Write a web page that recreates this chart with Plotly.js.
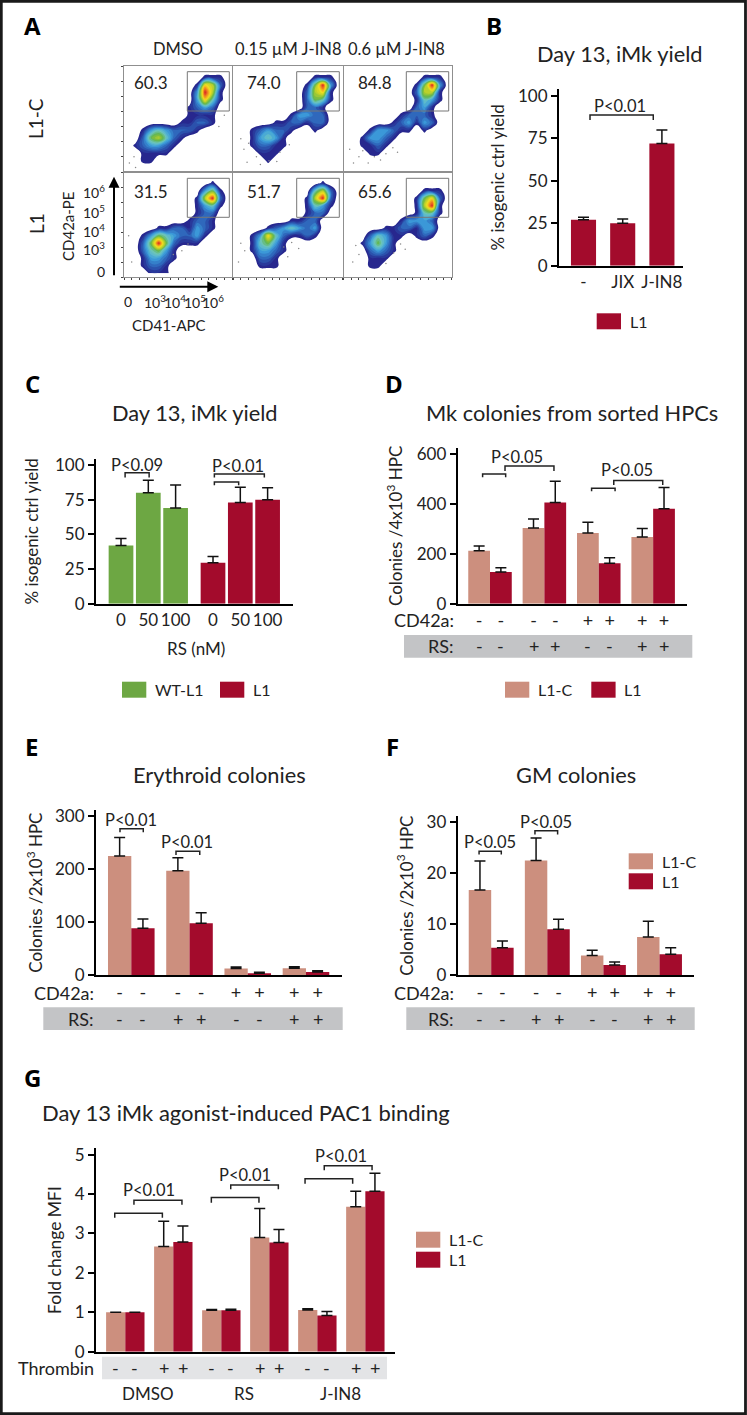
<!DOCTYPE html>
<html><head><meta charset="utf-8">
<script src="https://cdn.plot.ly/plotly-3.0.1.min.js"></script>
<style>html,body{margin:0;padding:0;background:#fff}#chart{width:747px;height:1415px}</style>
</head><body><div id="chart"></div>
<script>
// ---------- Panel A: density grids (0 = empty, 9 = densest), rows top to bottom
const densL1cDmso=[
[0,0,0,0,0,0,0,0,0,0,0,0,0,0],
[0,0,0,0,0,0,0,0,0,0,1,1,1,0],
[0,0,0,0,0,0,0,0,0,1,7,6,2,0],
[0,0,0,0,0,0,0,0,0,3,9,6,1,0],
[0,0,0,0,0,0,0,0,0,3,7,4,1,0],
[0,0,0,0,0,0,0,0,1,2,3,2,0,0],
[0,0,0,0,0,0,0,0,1,1,1,1,0,0],
[0,0,0,0,0,0,0,1,1,2,2,1,0,0],
[0,0,1,3,4,3,2,2,2,1,0,0,0,0],
[0,0,2,5,6,4,2,1,0,0,0,0,0,0],
[0,1,2,3,3,2,1,0,0,0,0,0,0,0],
[0,0,1,1,1,1,0,0,0,0,0,0,0,0],
[0,0,1,1,0,0,0,0,0,0,0,0,0,0],
[0,0,0,0,0,0,0,0,0,0,0,0,0,0]];
const densL1cLow=[
[0,0,0,0,0,0,0,0,0,0,0,0,0,0],
[0,0,0,0,0,0,0,0,0,0,1,1,1,0],
[0,0,0,0,0,0,0,0,0,1,5,9,3,0],
[0,0,0,0,0,0,0,0,0,2,6,7,1,0],
[0,0,0,0,0,0,0,0,0,2,5,4,1,0],
[0,0,0,0,0,0,0,0,0,2,2,1,0,0],
[0,0,0,0,0,0,0,1,3,3,2,2,0,0],
[0,0,0,0,0,1,1,2,2,1,2,2,0,0],
[0,0,1,2,3,2,2,1,0,0,1,0,0,0],
[0,0,1,3,4,3,1,0,0,0,0,0,0,0],
[0,0,1,2,2,1,1,0,0,0,0,0,0,0],
[0,0,0,1,1,1,0,0,0,0,0,0,0,0],
[0,0,0,0,1,0,0,0,0,0,0,0,0,0],
[0,0,0,0,0,0,0,0,0,0,0,0,0,0]];
const densL1cHigh=[
[0,0,0,0,0,0,0,0,0,0,0,0,0,0],
[0,0,0,0,0,0,0,0,0,0,1,1,1,0],
[0,0,0,0,0,0,0,0,0,1,5,9,3,0],
[0,0,0,0,0,0,0,0,0,2,6,6,1,0],
[0,0,0,0,0,0,0,0,0,1,4,3,1,0],
[0,0,0,0,0,0,0,0,0,2,3,1,0,0],
[0,0,0,0,0,0,0,1,2,2,2,1,0,0],
[0,0,0,0,0,0,1,2,3,1,3,2,0,0],
[0,0,0,1,3,3,2,1,1,0,1,0,0,0],
[0,0,1,3,3,2,1,0,0,0,0,0,0,0],
[0,0,1,1,2,1,0,0,0,0,0,0,0,0],
[0,0,0,1,1,0,0,0,0,0,0,0,0,0],
[0,0,0,0,0,0,0,0,0,0,0,0,0,0],
[0,0,0,0,0,0,0,0,0,0,0,0,0,0]];
const densL1Dmso=[
[0,0,0,0,0,0,0,0,0,0,0,0,0,0],
[0,0,0,0,0,0,0,0,0,0,0,1,0,0],
[0,0,0,0,0,0,0,0,0,0,3,5,1,0],
[0,0,0,0,0,0,0,0,0,1,6,9,2,0],
[0,0,0,0,0,0,0,0,0,1,3,4,1,0],
[0,0,0,0,0,0,0,0,0,1,2,2,0,0],
[0,0,0,0,0,0,0,0,1,2,2,1,0,0],
[0,0,0,0,1,1,2,2,1,3,2,1,0,0],
[0,0,1,3,5,4,3,2,2,3,1,0,0,0],
[0,0,2,5,9,5,2,1,1,1,0,0,0,0],
[0,0,2,4,5,3,1,0,0,0,0,0,0,0],
[0,0,1,3,3,2,1,0,0,0,0,0,0,0],
[0,0,1,2,2,1,0,0,0,0,0,0,0,0],
[0,0,0,1,1,1,0,0,0,0,0,0,0,0]];
const densL1Low=[
[0,0,0,0,0,0,0,0,0,0,0,0,0,0],
[0,0,0,0,0,0,0,0,0,0,0,1,0,0],
[0,0,0,0,0,0,0,0,0,0,4,6,2,0],
[0,0,0,0,0,0,0,0,0,1,6,9,2,0],
[0,0,0,0,0,0,0,0,0,1,4,3,1,0],
[0,0,0,0,0,0,0,0,0,1,2,2,0,0],
[0,0,0,0,0,0,0,1,1,2,2,0,0,0],
[0,0,0,0,1,2,3,4,3,2,3,0,0,0],
[0,0,1,3,7,4,2,1,1,2,1,0,0,0],
[0,0,1,4,5,3,1,0,0,0,0,0,0,0],
[0,0,1,3,3,2,1,0,0,0,0,0,0,0],
[0,0,0,2,2,1,0,0,0,0,0,0,0,0],
[0,0,0,1,1,1,0,0,0,0,0,0,0,0],
[0,0,0,0,0,0,0,0,0,0,0,0,0,0]];
const densL1High=[
[0,0,0,0,0,0,0,0,0,0,0,0,0,0],
[0,0,0,0,0,0,0,0,0,0,0,0,0,0],
[0,0,0,0,0,0,0,0,0,0,1,1,1,0],
[0,0,0,0,0,0,0,0,0,1,5,7,2,0],
[0,0,0,0,0,0,0,0,0,1,6,9,1,0],
[0,0,0,0,0,0,0,0,0,1,4,4,1,0],
[0,0,0,0,0,0,0,1,3,3,3,2,0,0],
[0,0,0,0,0,1,1,2,2,1,3,3,0,0],
[0,0,0,2,4,3,1,1,0,1,2,1,0,0],
[0,0,1,3,5,3,1,0,0,0,0,0,0,0],
[0,0,0,2,3,2,1,0,0,0,0,0,0,0],
[0,0,0,1,1,1,0,0,0,0,0,0,0,0],
[0,0,0,1,1,0,0,0,0,0,0,0,0,0],
[0,0,0,0,0,0,0,0,0,0,0,0,0,0]];
const panelPercents=['60.3','74.0','84.8','31.5','51.7','65.6'];
const columnHeads=['DMSO','0.15 µM J-IN8','0.6 µM J-IN8'];
const rowHeads=['L1-C','L1'];
const flowYTicks=['10<sup>6</sup>','10<sup>5</sup>','10<sup>4</sup>','10<sup>3</sup>','0'];
const flowXTicks=['0','10<sup>3</sup>','10<sup>4</sup>','10<sup>5</sup>','10<sup>6</sup>'];

// ---------- Panel B
const bLabels=['-','JIX','J-IN8'];
const bL1=[27,25,72];
const bL1Err=[1.5,2.5,8];
// ---------- Panel C
const cLabels=['0','50','100'];
const cWt=[42,80,69];
const cWtErr=[5,9,16.5];
const cL1=[29.5,73,75];
const cL1Err=[4.5,11,8.5];
// ---------- Panels D/E/F shared row labels
const cd42aRow=['-','-','-','-','+','+','+','+'];
const rsRow=['-','-','+','+','-','-','+','+'];
// ---------- Panel D
const dCtrl=[212,303,283,267];
const dCtrlErr=[19,36,43,34];
const dL1=[127,406,162,381];
const dL1Err=[17,85,22,85];
// ---------- Panel E
const eCtrl=[225,197.5,12.6,13.2];
const eCtrlErr=[35,24.5,3.1,3.1];
const eL1=[89,98,3.8,6.3];
const eL1Err=[17,20,1.9,2.5];
// ---------- Panel F
const fCtrl=[16.7,22.5,3.9,7.5];
const fCtrlErr=[5.7,4.4,1,3.1];
const fL1=[5.4,9,2,4.1];
const fL1Err=[1.3,2,.6,1.3];
// ---------- Panel G
const gCtrl=[1,2.67,1.05,2.9,1.06,3.68];
const gCtrlErr=[0,.64,.02,.73,.03,.39];
const gL1=[1,2.78,1.05,2.77,.92,4.07];
const gL1Err=[0,.41,.03,.33,.1,.46];
const thrombinRow=['-','-','+','+','-','-','+','+','-','-','+','+'];
const gGroups=['DMSO','RS','J-IN8'];

// ---------- helpers
const W=747,H=1415;
const FONT='Lato, "Open Sans", sans-serif';
const TXT='#222', C_L1='#a30b2c', C_CTRL='#cc8f7e', C_WT='#6da743';
const X=p=>p/W, Y=p=>1-p/H;
const traces=[], shapes=[], annotations=[], layout={};
const ax=i=>i===1?'':String(i);

function note(text,x,y,o){annotations.push(Object.assign({text,x:X(x),y:Y(y),xref:'paper',yref:'paper',showarrow:false,xanchor:'center',yanchor:'middle',font:{family:FONT,size:18,color:TXT}},o||{}));}
function rect(x0,y0,x1,y1,fill,layer){shapes.push({type:'rect',xref:'paper',yref:'paper',x0:X(x0),x1:X(x1),y0:Y(y0),y1:Y(y1),fillcolor:fill,line:{width:0},layer:layer||'below'});}
function swatch(x0,y0,color,label){rect(x0,y0,x0+24.3,y0+16,color);note(label,x0+31,y0+8,{xanchor:'left',font:{family:FONT,size:16,color:TXT}});}

function barAxes(i,box,xr,yr,ticks,opts){
  layout['xaxis'+ax(i)]=Object.assign({domain:[X(box.l),X(box.r)],range:xr,anchor:'y'+ax(i),showgrid:false,zeroline:false,showline:true,linecolor:'#000',linewidth:2,ticks:'',fixedrange:true,tickfont:{family:FONT,size:17,color:TXT}},opts.x||{});
  layout['yaxis'+ax(i)]=Object.assign({domain:[Y(box.b),Y(box.t)],range:yr,anchor:'x'+ax(i),showgrid:false,zeroline:false,showline:true,linecolor:'#000',linewidth:2,ticks:'outside',ticklen:6,tickwidth:2,tickcolor:'#000',tickmode:'array',tickvals:ticks,ticktext:ticks.map(String),fixedrange:true,tickfont:{family:FONT,size:17,color:TXT}},opts.y||{});
}
function bars(i,x,y,err,color,name,width){
  traces.push({type:'bar',name,x,y,width,xaxis:'x'+ax(i),yaxis:'y'+ax(i),marker:{color,line:{width:0}},showlegend:false,hoverinfo:'x+y',
    error_y:{type:'data',symmetric:false,array:err,arrayminus:err.map(()=>0),color:'#111',thickness:1.5,width:5.5}});
}
function bracket(i,x0,x1,top,endL,endR){
  traces.push({type:'scatter',mode:'lines',x:[x0,x0,x1,x1],y:[endL,top,top,endR],xaxis:'x'+ax(i),yaxis:'y'+ax(i),line:{color:'#222',width:1.5},showlegend:false,hoverinfo:'skip',cliponaxis:false});
}
function pval(i,text,x,y){annotations.push({text,x,y,xref:'x'+ax(i),yref:'y'+ax(i),showarrow:false,xanchor:'center',yanchor:'middle',font:{family:FONT,size:16.5,color:TXT}});}
function signRow(i,xs,signs,yPx){signs.forEach((s,k)=>annotations.push({text:s,x:xs[k],y:Y(yPx),xref:'x'+ax(i),yref:'paper',showarrow:false,xanchor:'center',yanchor:'middle',font:{family:FONT,size:18,color:TXT}}));}
function yTitle(i,text,standoff,size){layout['yaxis'+ax(i)].title={text,standoff,font:{family:FONT,size,color:TXT}};}

// ---------- Panel A
const flowColors=[[0,'#fff'],[.01,'#fff'],[.02,'#26268c'],[.057,'#27288f'],[.17,'#2d62b8'],[.284,'#3c9edb'],[.398,'#6cc6c4'],[.511,'#62b54a'],[.625,'#b5cf2e'],[.739,'#f6e01e'],[.852,'#f0801f'],[.966,'#d61f26'],[1,'#d61f26']];
const flowCenters=[...Array(14).keys()].map(v=>v+.5);
const flowBoxes=[[124,232,66,172],[233,342.5,66,172],[343.5,451.5,66,172],[124,232,172,277],[233,342.5,172,277],[343.5,451.5,172,277]];
const flowGrids=[densL1cDmso,densL1cLow,densL1cHigh,densL1Dmso,densL1Low,densL1High];
const gates=[[187.3,229.3,71.7,111],[296.7,339.3,71.7,111],[406.3,448.7,71.7,111],[187.3,229.3,178.3,217.3],[296.7,339.3,178.3,217.3],[406.3,448.7,178.3,217.3]];
const strayX=[[1.3,.7,13,12.3,1.5],[2,1.4,1.8,3,3.5,4.6,5.6,6,7.2,1],[.8,2,2.5,3.2,4,4.8,5.5,6.4,7,1.3],[.6,7.5,8.3,1,6.4],[1,1.5,6.5,7.5,8.4,.7,7],[1.6,2,1.2,6.5,7.4,8,5.5]];
const strayY=[[12,12.8,6.5,8,13.4],[10.2,11,12.7,12,13,12.5,12.6,11.4,10.4,9.6],[11,12,11.2,12.8,12,12.4,11.6,10.8,11.4,12.8],[8.5,10.5,9.6,12,11],[9.5,10.5,10,9.4,10.2,12,11.3],[9.8,11,12,10.8,9.6,10.3,12.2]];
flowGrids.forEach((z,k)=>{
  const i=k+1,b=flowBoxes[k];
  const base={showgrid:false,zeroline:false,showline:true,mirror:true,linecolor:'#8f8f8f',linewidth:1,showticklabels:false,fixedrange:true};
  layout['xaxis'+ax(i)]=Object.assign({},base,{domain:[X(b[0]),X(b[1])],range:[0,14],anchor:'y'+ax(i),ticks:k>=3?'outside':'',ticklen:2,tickwidth:1,tickcolor:'#444',dtick:1});
  layout['yaxis'+ax(i)]=Object.assign({},base,{domain:[Y(b[3]),Y(b[2])],range:[14,0],anchor:'x'+ax(i),ticks:k%3===0?'outside':'',ticklen:2,tickwidth:1,tickcolor:'#444',dtick:2});
  traces.push({type:'contour',z,x:flowCenters,y:flowCenters,autocontour:false,contours:{coloring:'fill',start:.7,end:9.1,size:.4,showlines:false},line:{width:0,smoothing:1.3},colorscale:flowColors,showscale:false,xaxis:'x'+ax(i),yaxis:'y'+ax(i),hoverinfo:'skip'});
  traces.push({type:'scatter',mode:'markers',x:strayX[k],y:strayY[k],xaxis:'x'+ax(i),yaxis:'y'+ax(i),marker:{size:1.5,color:'#888'},showlegend:false,hoverinfo:'skip'});
  const g=gates[k];
  shapes.push({type:'rect',xref:'paper',yref:'paper',x0:X(g[0]),x1:X(g[1]),y0:Y(g[2]),y1:Y(g[3]),line:{color:'#777',width:1},layer:'above'});
});
[151,264.3,375,151,264.3,375].forEach((x,k)=>note(panelPercents[k],x,k<3?83:192,{font:{family:FONT,size:17,color:TXT}}));
[178,288,396.7].forEach((x,k)=>note(columnHeads[k],x,49,{font:{family:FONT,size:16.5,color:TXT}}));
note(rowHeads[0],36,119,{textangle:-90,font:{family:FONT,size:19,color:TXT}});
note(rowHeads[1],36,224,{textangle:-90,font:{family:FONT,size:19,color:TXT}});
[191.7,211,230,248,272].forEach((y,k)=>note(flowYTicks[k],107,y,{xanchor:'right',font:{family:FONT,size:14,color:TXT}}));
[128.3,155,175,195,213].forEach((x,k)=>note(flowXTicks[k],x,301,{font:{family:FONT,size:14,color:TXT}}));
note('CD42a-PE',68,226,{textangle:-90,font:{family:FONT,size:15,color:TXT}});
note('CD41-APC',169,325,{font:{family:FONT,size:15,color:TXT}});
annotations.push({text:'',x:X(114),y:Y(176.7),xref:'paper',yref:'paper',ax:X(114),ay:Y(276.7),axref:'paper',ayref:'paper',showarrow:true,arrowhead:2,arrowsize:1.1,arrowwidth:2,arrowcolor:'#000'});
annotations.push({text:'',x:X(218.3),y:Y(286.7),xref:'paper',yref:'paper',ax:X(118.3),ay:Y(286.7),axref:'paper',ayref:'paper',showarrow:true,arrowhead:2,arrowsize:1.1,arrowwidth:2,arrowcolor:'#000'});

// ---------- Panel B (axes 7)
const bX=[0,1,2];
barAxes(7,{l:559,r:683,t:89,b:265.7},[-.625,2.538],[0,104.1],[0,25,50,75,100],{x:{tickmode:'array',tickvals:bX,ticktext:bLabels}});
bars(7,bX,bL1,bL1Err,C_L1,'L1',.64);
yTitle(7,'% isogenic ctrl yield',9,17);
bracket(7,.166,1.78,88.8,85.9,85.9);
pval(7,'P<0.01',.93,94.3);
note('Day 13, iMk yield',620,54,{font:{family:FONT,size:21.8,color:TXT}});
swatch(596.7,313.3,C_L1,'L1');

// ---------- Panel C (axes 8)
const cXwt=[0,1,2], cXl1=[3.37,4.37,5.37];
barAxes(8,{l:96,r:293,t:459,b:603.7},[-.916,6.3],[0,104.3],[0,25,50,75,100],{x:{tickmode:'array',tickvals:cXwt.concat(cXl1),ticktext:cLabels.concat(cLabels)}});
bars(8,cXwt,cWt,cWtErr,C_WT,'WT-L1',.905);
bars(8,cXl1,cL1,cL1Err,C_L1,'L1',.905);
yTitle(8,'% isogenic ctrl yield',12,17);
bracket(8,.15,1.03,94.4,91,91);
pval(8,'P<0.09',.6,100);
bracket(8,3.42,5.25,93.5,91,91);
bracket(8,3.42,4.31,87.7,85.3,85.3);
pval(8,'P<0.01',4.3,99);
note('Day 13, iMk yield',195,412,{font:{family:FONT,size:21.8,color:TXT}});
note('RS (nM)',195.7,648,{font:{family:FONT,size:17,color:TXT}});
swatch(122,681.7,C_WT,'WT-L1');
swatch(220,681.7,C_L1,'L1');

// ---------- shared for D/E/F
const ctrlX=[-.5,2,4.5,7], l1X=[.5,3,5.5,8], allX=[-.5,.5,2,3,4.5,5.5,7,8];

// ---------- Panel D (axes 9)
barAxes(9,{l:457.7,r:687.3,t:448,b:603.7},[-1.485,9.07],[0,624],[0,200,400,600],{x:{tickmode:'array',tickvals:allX,ticktext:cd42aRow,tickfont:{family:FONT,size:18,color:TXT}}});
bars(9,ctrlX,dCtrl,dCtrlErr,C_CTRL,'L1-C',1);
bars(9,l1X,dL1,dL1Err,C_L1,'L1',1);
yTitle(9,'Colonies /4x10<sup>3</sup> HPC',10,17);
bracket(9,-.34,.72,520,507,507);
bracket(9,.69,2.94,552,532,532);
pval(9,'P<0.05',1.25,589);
bracket(9,4.67,5.75,462.5,451,451);
bracket(9,5.69,7.94,494,476,476);
pval(9,'P<0.05',6.28,535);
rect(404,635,692.3,657.7,'#c3c4c6');
note('CD42a:',456,620.3,{xanchor:'right'});
note('RS:',456,646.3,{xanchor:'right'});
signRow(9,allX,rsRow,646.3);
note('Mk colonies from sorted HPCs',572,412,{font:{family:FONT,size:21.8,color:TXT}});
swatch(505,681.7,C_CTRL,'L1-C');
swatch(591.3,681.7,C_L1,'L1');

// ---------- Panel E (axes 10)
barAxes(10,{l:96,r:342.3,t:810,b:975.3},[-1.515,9.06],[0,311.9],[0,100,200,300],{x:{tickmode:'array',tickvals:allX,ticktext:cd42aRow,tickfont:{family:FONT,size:18,color:TXT}}});
bars(10,ctrlX,eCtrl,eCtrlErr,C_CTRL,'L1-C',1);
bars(10,l1X,eL1,eL1Err,C_L1,'L1',1);
yTitle(10,'Colonies /2x10<sup>3</sup> HPC',8,17);
bracket(10,-.485,.515,276.6,270,270);
pval(10,'P<0.01',-.01,293);
bracket(10,1.92,2.94,234,227,227);
pval(10,'P<0.01',2.39,251);
rect(43.3,1007.3,342.7,1030,'#c3c4c6');
note('CD42a:',95.7,992.7,{xanchor:'right'});
note('RS:',95.7,1018.7,{xanchor:'right'});
signRow(10,allX,rsRow,1018.7);
note('Erythroid colonies',219.3,774.3,{font:{family:FONT,size:21.8,color:TXT}});

// ---------- Panel F (axes 11)
barAxes(11,{l:457.7,r:694.3,t:816,b:975.3},[-1.492,9.05],[0,31.2],[0,10,20,30],{x:{tickmode:'array',tickvals:allX,ticktext:cd42aRow,tickfont:{family:FONT,size:18,color:TXT}}});
bars(11,ctrlX,fCtrl,fCtrlErr,C_CTRL,'L1-C',1);
bars(11,l1X,fL1,fL1Err,C_L1,'L1',1);
yTitle(11,'Colonies /2x10<sup>3</sup> HPC',9,17);
bracket(11,-.54,.45,24.3,23.65,23.65);
pval(11,'P<0.05',-.05,26.2);
bracket(11,1.95,2.96,28.3,27.6,27.6);
pval(11,'P<0.05',2.44,30.06);
rect(406.3,1007.3,694.7,1030,'#c3c4c6');
note('CD42a:',456,992.7,{xanchor:'right'});
note('RS:',456,1018.7,{xanchor:'right'});
signRow(11,allX,rsRow,1018.7);
note('GM colonies',575.7,774.3,{font:{family:FONT,size:21.8,color:TXT}});
swatch(628.7,853.3,C_CTRL,'L1-C');
swatch(628.7,873.3,C_L1,'L1');

// ---------- Panel G (axes 12)
const gCtrlX=[-.5,2,4.5,7,9.5,12], gL1X=[.5,3,5.5,8,10.5,13], gAllX=[-.5,.5,2,3,4.5,5.5,7,8,9.5,10.5,12,13];
barAxes(12,{l:96,r:395.3,t:1148.3,b:1351.7},[-1.526,14.06],[0,5.16],[0,1,2,3,4,5],{x:{showticklabels:false}});
bars(12,gCtrlX,gCtrl,gCtrlErr,C_CTRL,'L1-C',1);
bars(12,gL1X,gL1,gL1Err,C_L1,'L1',1);
yTitle(12,'Fold change MFI',9,17.5);
bracket(12,-.55,1.93,3.51,3.4,3.4);
bracket(12,.45,2.95,3.84,3.73,3.73);
pval(12,'P<0.01',1.23,4.1);
bracket(12,4.48,6.96,3.91,3.78,3.78);
bracket(12,5.49,7.97,4.23,4.12,4.12);
pval(12,'P<0.01',6.23,4.48);
bracket(12,9.36,11.84,4.39,4.26,4.26);
bracket(12,10.36,12.85,4.72,4.6,4.6);
pval(12,'P<0.01',11.22,4.96);
rect(102,1356.7,387,1379.3,'#e3e4e6');
note('Thrombin',95.7,1367.7,{xanchor:'right'});
signRow(12,gAllX,thrombinRow,1367.7);
[147.7,244,340].forEach((x,k)=>note(gGroups[k],x,1393.3,{font:{family:FONT,size:17,color:TXT}}));
note('Day 13 iMk agonist-induced PAC1 binding',246,1112.3,{font:{family:FONT,size:22,color:TXT}});
swatch(416,1231.7,C_CTRL,'L1-C');
swatch(416,1251.7,C_L1,'L1');

// ---------- panel letters and frame
[['A',32,25],['B',494,25],['C',32,383],['D',394,383],['E',31,746],['F',392,746],['G',32,1077]].forEach(l=>
  note('<b>'+l[0]+'</b>',l[1],l[2],{font:{family:'"Open Sans", Lato, sans-serif',size:24,color:'#000'}}));
shapes.push({type:'rect',xref:'paper',yref:'paper',x0:X(1.3),x1:X(745.5),y0:Y(1.3),y1:Y(1413.7),line:{color:'#1a1a1a',width:2.8},layer:'above'});

Object.assign(layout,{width:W,height:H,margin:{l:0,r:0,t:0,b:0,pad:0},paper_bgcolor:'#fff',plot_bgcolor:'rgba(0,0,0,0)',barmode:'overlay',showlegend:false,shapes,annotations,font:{family:FONT,color:TXT}});
Plotly.newPlot('chart',traces,layout,{displayModeBar:false,responsive:false});
</script></body></html>
